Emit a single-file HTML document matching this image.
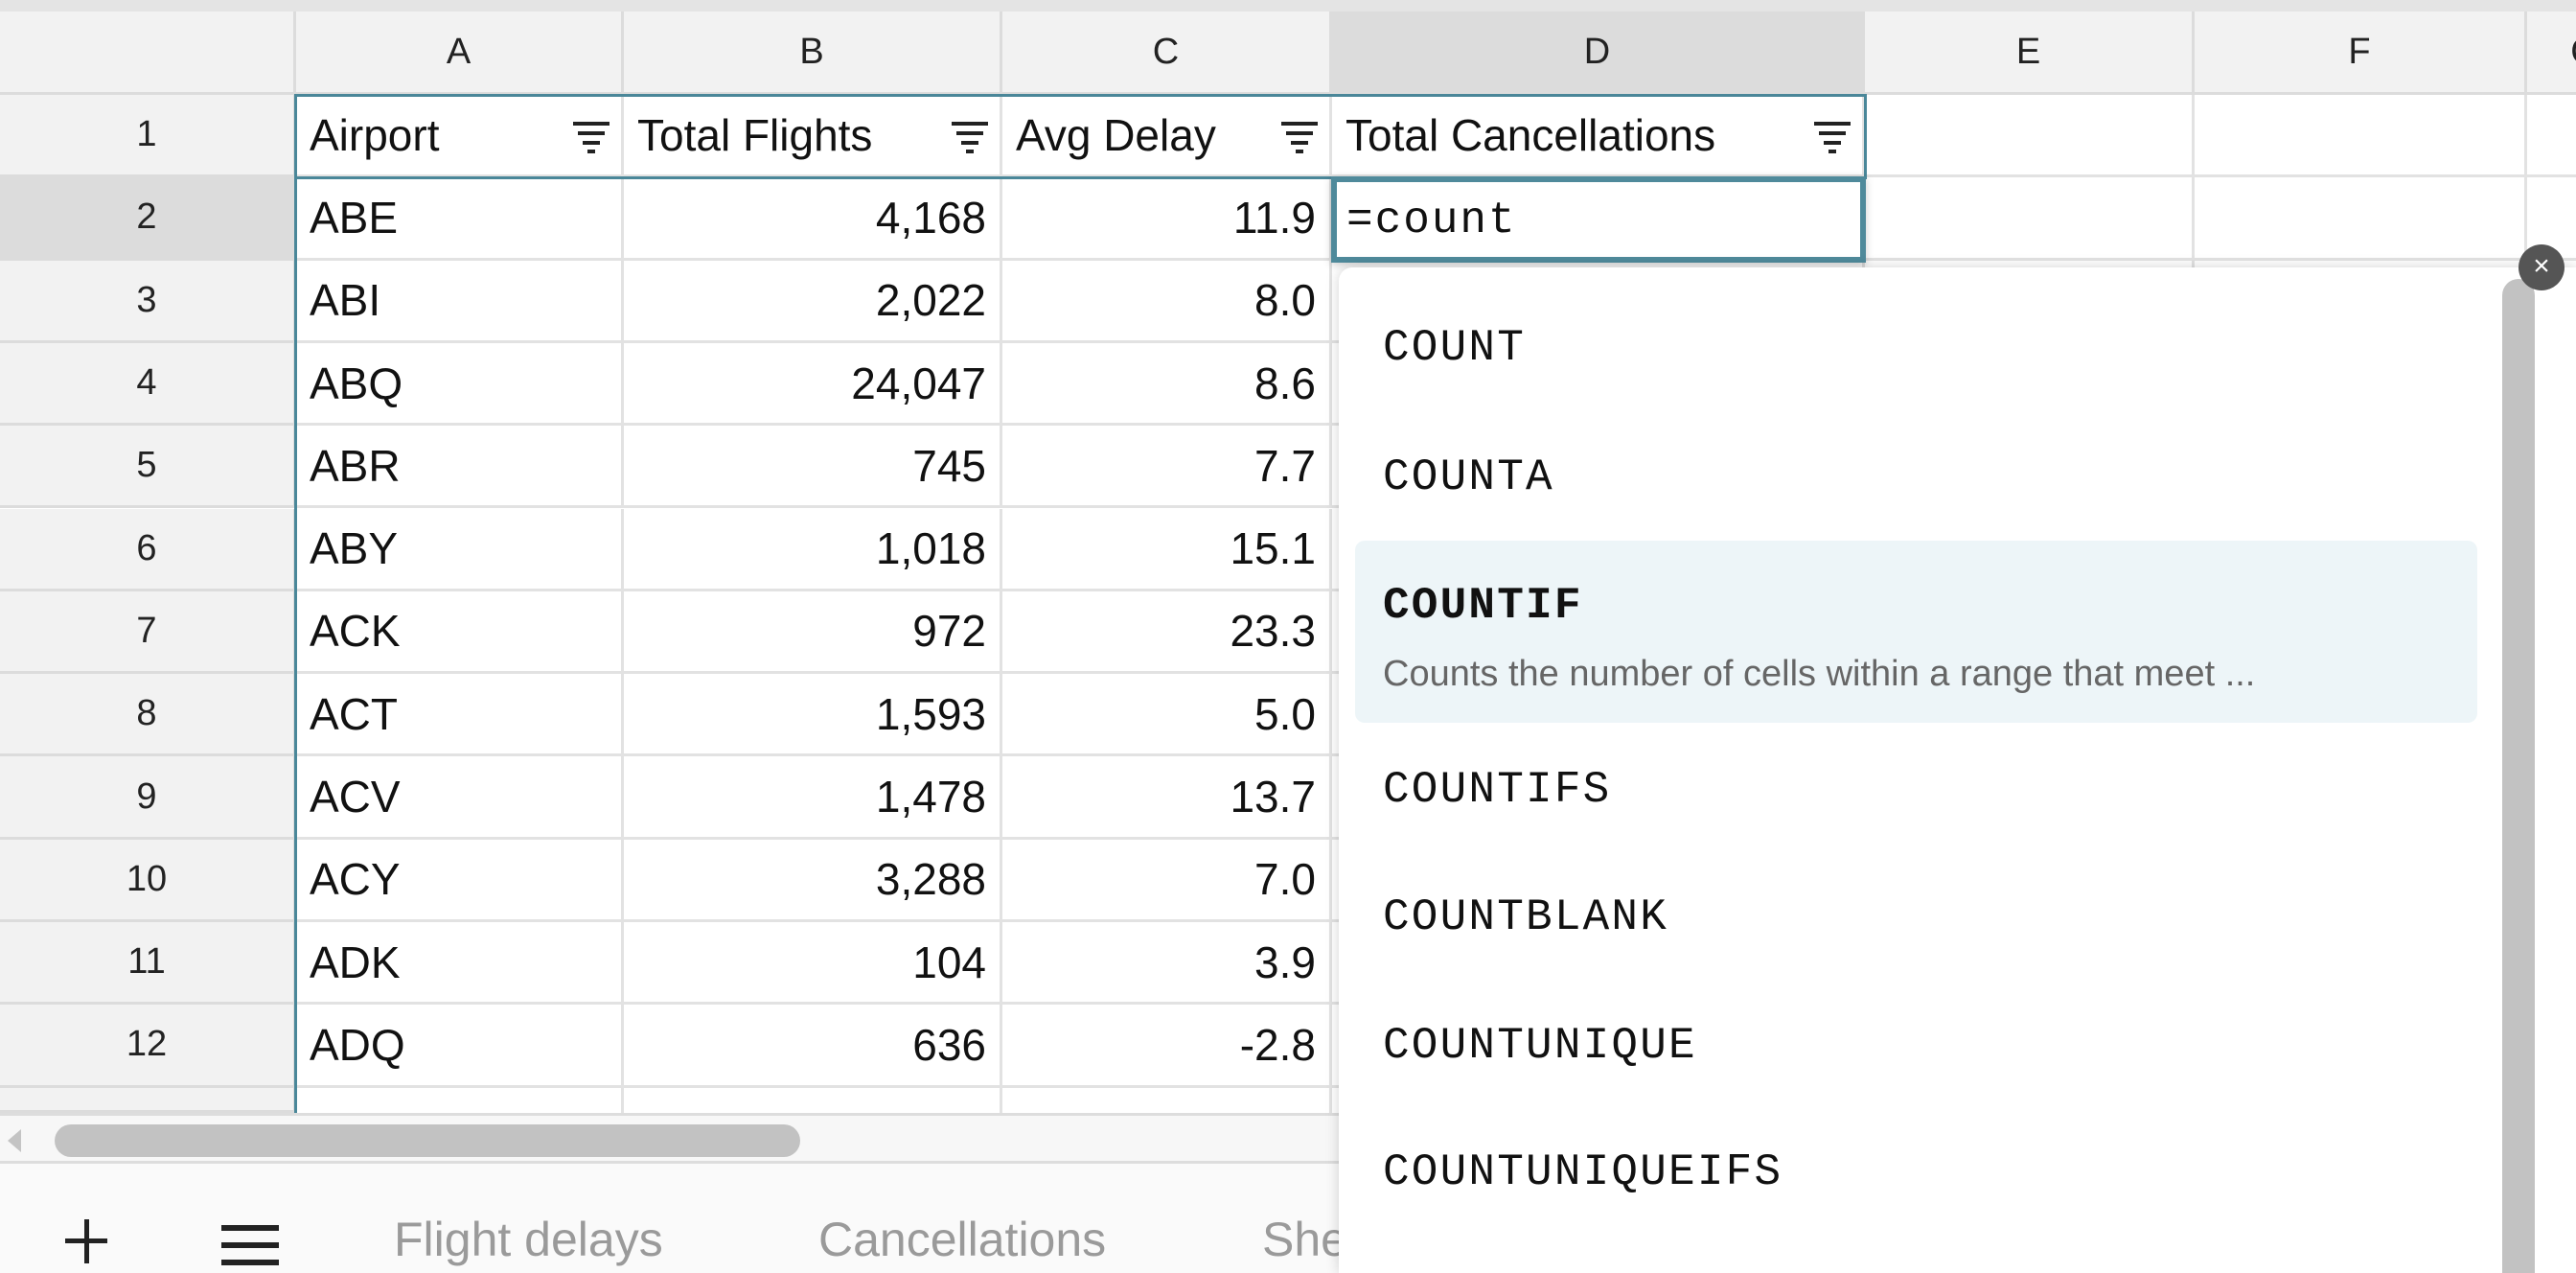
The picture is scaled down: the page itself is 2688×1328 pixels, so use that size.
<!DOCTYPE html>
<html><head><meta charset="utf-8"><style>
*{box-sizing:border-box;margin:0;padding:0}
html{width:2688px;height:1328px;overflow:hidden}
body{width:2688px;height:1328px;overflow:hidden;background:#fff;font-family:"Liberation Sans",sans-serif;position:relative}
.abs{position:absolute}
.ch{position:absolute;background:#f2f2f2;border-right:3px solid #dcdcdc;border-bottom:3px solid #dcdcdc;font-size:38px;color:#222;display:flex;align-items:center;justify-content:center}
.cell{position:absolute;border-right:3px solid #e2e2e2;border-bottom:3px solid #e2e2e2;font-size:46px;color:#111;display:flex;align-items:center;padding:0 14px;white-space:nowrap;overflow:hidden}
.num{justify-content:flex-end;padding-right:14px}
.filt{position:absolute;right:12px;top:26px;width:38px;height:34px}
.filt i{position:absolute;height:4px;background:#222;left:50%;transform:translateX(-50%)}
.item{position:absolute;left:1443px;font-family:"Liberation Mono",monospace;font-size:46px;letter-spacing:2.2px;color:#111}
</style></head><body>
<div class="abs" style="left:0;top:0;width:2688px;height:12px;background:#e4e4e4"></div>
<div id="grid"></div>

<div class="abs" style="left:307px;top:98px;width:1641px;height:89px;border:3px solid #4a8799"></div>
<div class="abs" style="left:307px;top:98px;width:3px;height:1063px;background:#4a8799"></div>
<div class="abs" style="left:1389px;top:184px;width:558px;height:90px;border:6px solid #4f8a9b;background:#fff;box-shadow:0 2px 8px rgba(0,0,0,.2);font-family:'Liberation Mono',monospace;font-size:46px;letter-spacing:2px;padding:14px 0 0 10px;color:#111">=count</div>

<div class="abs" style="left:0;top:1161px;width:2688px;height:53px;background:#f7f7f7;border-top:3px solid #ddd;border-bottom:3px solid #ddd">
 <div style="position:absolute;left:8px;top:14px;width:0;height:0;border-top:12px solid transparent;border-bottom:12px solid transparent;border-right:14px solid #c4c4c4"></div>
 <div style="position:absolute;left:57px;top:9px;width:778px;height:34px;border-radius:17px;background:#c2c2c2"></div>
</div>
<div class="abs" style="left:0;top:1214px;width:2688px;height:114px;background:#fafafa">
 <div style="position:absolute;left:68px;top:78px;width:44px;height:5px;background:#222"></div>
 <div style="position:absolute;left:88px;top:58px;width:5px;height:46px;background:#222"></div>
 <div style="position:absolute;left:231px;top:64px;width:60px;height:42px;border-top:6px solid #222;border-bottom:6px solid #222"><div style="margin-top:12px;height:6px;background:#222"></div></div>
 <div style="position:absolute;left:411px;top:50px;font-size:50px;color:#9a9a9a">Flight delays</div>
 <div style="position:absolute;left:854px;top:50px;font-size:50px;color:#9a9a9a">Cancellations</div>
 <div style="position:absolute;left:1317px;top:50px;font-size:50px;color:#9a9a9a">Sheet3</div>
</div>

<div class="abs" style="left:1397px;top:279px;width:1291px;height:1049px;background:#fff;border-radius:14px 0 0 0;box-shadow:0 0 14px rgba(0,0,0,.18)"></div>
<div class="abs" style="left:2611px;top:291px;width:34px;height:1037px;background:#c2c2c2;border-radius:17px 17px 0 0"></div>
<div class="abs" style="left:1414px;top:564px;width:1171px;height:190px;background:#edf5f8;border-radius:10px"></div>
<div class="item" style="top:337px">COUNT</div>
<div class="item" style="top:472px">COUNTA</div>
<div class="item" style="top:606px;font-weight:bold">COUNTIF</div>
<div class="abs" style="left:1443px;top:682px;font-size:38px;color:#666">Counts the number of cells within a range that meet ...</div>
<div class="item" style="top:798px">COUNTIFS</div>
<div class="item" style="top:931px">COUNTBLANK</div>
<div class="item" style="top:1065px">COUNTUNIQUE</div>
<div class="item" style="top:1197px">COUNTUNIQUEIFS</div>
<div class="abs" style="left:2628px;top:255px;width:48px;height:48px;border-radius:24px;background:#555;color:#fff;font-size:30px;text-align:center;line-height:46px">×</div>

<script>
const colLetters=["A","B","C","D","E","F","G"];
const headers=["Airport","Total Flights","Avg Delay","Total Cancellations"];
const airports=["ABE","ABI","ABQ","ABR","ABY","ACK","ACT","ACV","ACY","ADK","ADQ","AEX"];
const flights=["4,168","2,022","24,047","745","1,018","972","1,593","1,478","3,288","104","636","2,130"];
const delays=["11.9","8.0","8.6","7.7","15.1","23.3","5.0","13.7","7.0","3.9","-2.8","7.4"];
const xs=[0,309,651,1046,1390,1946,2290,2637,2760];
const g=document.getElementById('grid');
const HT=12,HB=99,RH=86.3;
function mk(cls,l,t,w,h,txt){const d=document.createElement('div');d.className=cls;d.style.left=l+'px';d.style.top=t+'px';d.style.width=w+'px';d.style.height=h+'px';if(txt!==undefined)d.textContent=txt;g.appendChild(d);return d;}
let c=mk('ch',0,HT,309,HB-HT,'');


for(let i=0;i<7;i++){
  const d=mk('ch',xs[i+1],HT,xs[i+2]-xs[i+1],HB-HT,colLetters[i]);
  if(i==3)d.style.background='#dcdcdc';
  
  
}
for(let r=0;r<13;r++){
  const top=HB+r*RH,h=(r==12?1161-top:RH);
  const rh=mk('ch',0,top,309,h,r<12?String(r+1):'');
  if(r==1)rh.style.background='#dcdcdc';
  
  
  for(let i=0;i<7;i++){
    let txt='';let num=false;
    if(r==0&&i<4)txt=headers[i];
    else if(r>0){const k=r-1;if(i==0)txt=airports[k];if(i==1){txt=flights[k];num=true}if(i==2){txt=delays[k];num=true}}
    const d=mk('cell'+(num?' num':''),xs[i+1],top,xs[i+2]-xs[i+1],h,txt);
    if(r==12){d.style.alignItems='flex-start';d.style.paddingTop='40px';}
    
    
    if(r==0&&i<4){
      d.style.paddingRight='60px';
      const f=document.createElement('div');f.className='filt';
      f.innerHTML='<i style="top:2px;width:38px"></i><i style="top:12px;width:28px"></i><i style="top:22px;width:18px"></i><i style="top:31px;width:8px"></i>';
      
      
      d.appendChild(f);
    }
  }
}
</script>
</body></html>
